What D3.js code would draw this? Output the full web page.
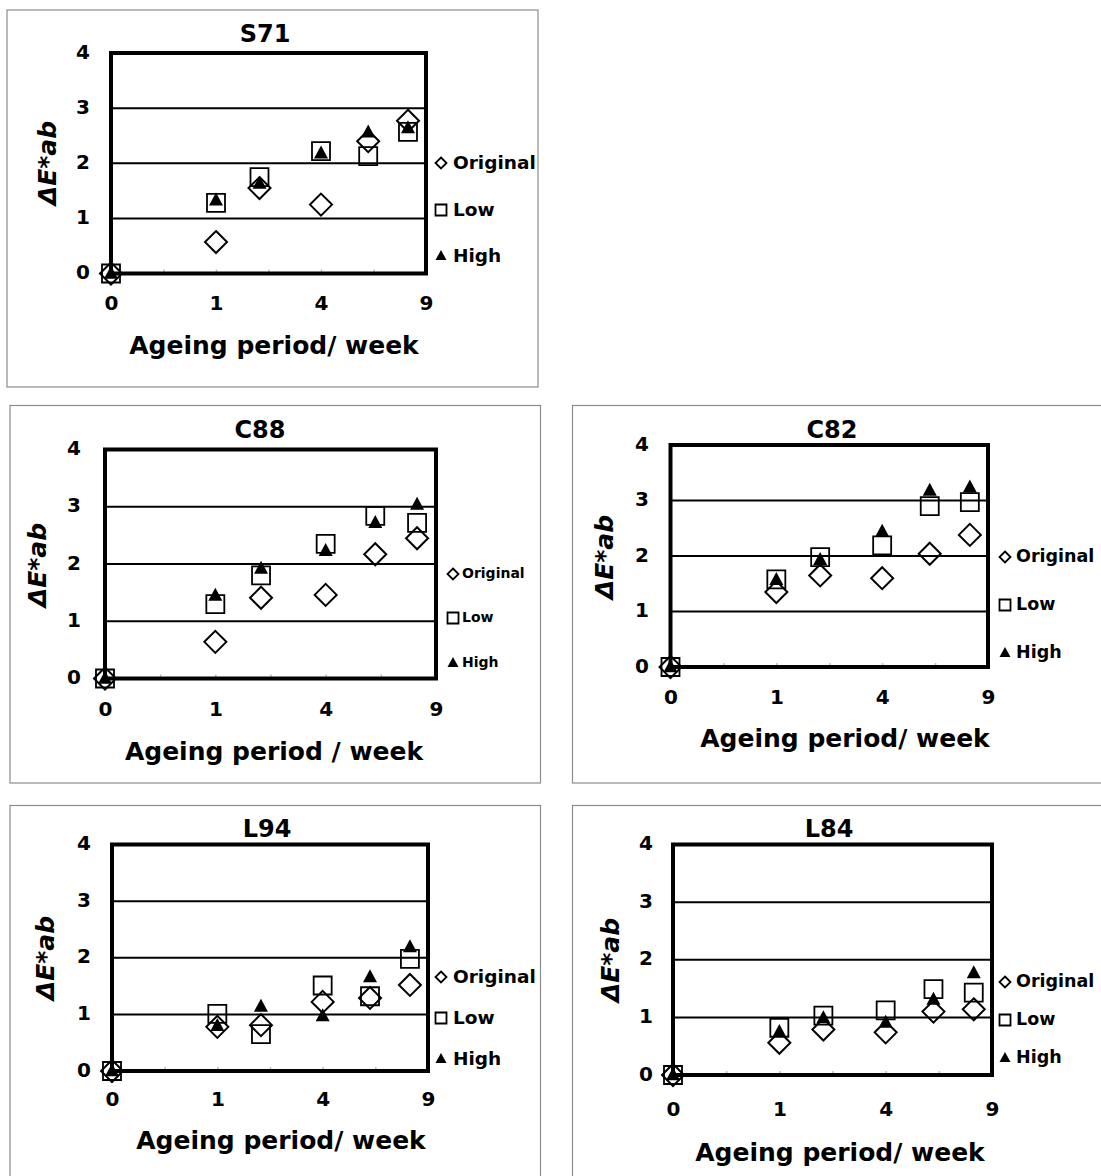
<!DOCTYPE html>
<html>
<head>
<meta charset="utf-8">
<script src="https://cdn.jsdelivr.net/npm/d3@7"></script>
<style>
  body { margin: 0; background: #fff; }
  svg text { font-family: Verdana, "DejaVu Sans", sans-serif; font-weight: bold; fill: #000; }
</style>
</head>
<body>
<div id="chart-area"></div>
<script>
// ageing weeks (x axis is a square-root scale, labelled 0 1 4 9)
const weeks = [0, 1, 2, 4, 6, 8];
const xTicks = [0, 1, 4, 9];
const xMinorTicks = [0.25, 1, 2.25, 4, 6.25];
const yTicks = [0, 1, 2, 3, 4];
const gridValues = [1, 2, 3];
const seriesNames = ["Original", "Low", "High"];

const s71Original = [0, 0.57, 1.55, 1.25, 2.40, 2.77];
const s71Low      = [0, 1.28, 1.75, 2.22, 2.13, 2.57];
const s71High     = [0, 1.33, 1.63, 2.18, 2.56, 2.64];

const c88Original = [0, 0.64, 1.41, 1.46, 2.17, 2.45];
const c88Low      = [0, 1.30, 1.80, 2.35, 2.84, 2.72];
const c88High     = [0, 1.45, 1.92, 2.23, 2.72, 3.04];

const c82Original = [0, 1.35, 1.65, 1.60, 2.04, 2.38];
const c82Low      = [0, 1.58, 1.98, 2.19, 2.90, 2.97];
const c82High     = [0, 1.57, 1.93, 2.44, 3.18, 3.24];

const l94Original = [0, 0.78, 0.81, 1.22, 1.29, 1.52];
const l94Low      = [0, 1.01, 0.65, 1.51, 1.32, 1.98];
const l94High     = [0, 0.80, 1.14, 0.97, 1.66, 2.19];

const l84Original = [0, 0.56, 0.79, 0.74, 1.10, 1.14];
const l84Low      = [0, 0.82, 1.03, 1.12, 1.49, 1.43];
const l84High     = [0, 0.75, 0.99, 0.91, 1.31, 1.77];

const panels = [
  { title: "S71", series: [s71Original, s71Low, s71High], xTitle: "Ageing period/ week",
    frame: [7, 10, 538, 387], plot: [111, 53, 426, 273.5],
    titleX: 265, titleY: 34, yLabX: 83, xLabY: 303, xTitleX: 274, xTitleY: 345, yTitleX: 47, yTitleY: 163,
    legX: 441, legTX: 453, legY: [163, 210, 256], legFont: 18.5 },
  { title: "C88", series: [c88Original, c88Low, c88High], xTitle: "Ageing period / week",
    frame: [10, 405.5, 540.5, 783], plot: [105, 449.5, 436, 678.5],
    titleX: 260, titleY: 430, yLabX: 74, xLabY: 709, xTitleX: 274, xTitleY: 751, yTitleX: 37, yTitleY: 565,
    legX: 453, legTX: 462, legY: [574, 618, 663], legFont: 14 },
  { title: "C82", series: [c82Original, c82Low, c82High], xTitle: "Ageing period/ week",
    frame: [572.5, 405.5, 1110, 783], plot: [670.5, 445, 988, 667],
    titleX: 832, titleY: 430, yLabX: 642, xLabY: 697, xTitleX: 845, xTitleY: 738, yTitleX: 604, yTitleY: 557,
    legX: 1005, legTX: 1016, legY: [557, 605, 653], legFont: 17.5 },
  { title: "L94", series: [l94Original, l94Low, l94High], xTitle: "Ageing period/ week",
    frame: [10, 805.5, 540.5, 1190], plot: [112, 844.5, 428, 1071],
    titleX: 267, titleY: 829, yLabX: 84, xLabY: 1099, xTitleX: 281, xTitleY: 1140, yTitleX: 45, yTitleY: 958,
    legX: 441, legTX: 453, legY: [977, 1018, 1059], legFont: 18.5 },
  { title: "L84", series: [l84Original, l84Low, l84High], xTitle: "Ageing period/ week",
    frame: [572.5, 805.5, 1110, 1190], plot: [673, 844.5, 992, 1075],
    titleX: 829, titleY: 829, yLabX: 646, xLabY: 1109, xTitleX: 840, xTitleY: 1152, yTitleX: 610, yTitleY: 960,
    legX: 1005, legTX: 1016, legY: [982, 1020, 1058], legFont: 17.5 }
];

const width = 1101, height = 1176;
const svg = d3.select("#chart-area")
  .append("svg")
    .attr("width", width)
    .attr("height", height);

// marker shapes
function diamondPath(r) { return "M0," + (-r) + "L" + r + ",0L0," + r + "L" + (-r) + ",0Z"; }
function squarePath(h) { return "M" + (-h) + "," + (-h) + "H" + h + "V" + h + "H" + (-h) + "Z"; }
function trianglePath(w, h) { return "M0," + (-h * 0.6) + "L" + (w / 2) + "," + (h * 0.4) + "L" + (-w / 2) + "," + (h * 0.4) + "Z"; }

const markerStyles = [
  { path: diamondPath(11), legPath: diamondPath(5.5), fill: "none", stroke: "#000", sw: 2 },
  { path: squarePath(9), legPath: squarePath(5.5), fill: "none", stroke: "#000", sw: 1.8 },
  { path: trianglePath(14, 13), legPath: trianglePath(11, 10), fill: "#000", stroke: "none", sw: 0 }
];

panels.forEach((p) => {
  const [fx0, fy0, fx1, fy1] = p.frame;
  const [left, top, right, bottom] = p.plot;

  svg.append("rect")
    .attr("x", fx0).attr("y", fy0)
    .attr("width", fx1 - fx0).attr("height", fy1 - fy0)
    .attr("fill", "#fff")
    .attr("stroke", "#8c8c8c")
    .attr("stroke-width", 1.2);

  const x = d3.scaleSqrt().domain([0, 9]).range([left, right]);
  const y = d3.scaleLinear().domain([0, 4]).range([bottom, top]);

  const g = svg.append("g");

  // grid lines
  g.selectAll(".grid").data(gridValues).enter()
    .append("line")
      .attr("x1", left).attr("x2", right)
      .attr("y1", (d) => y(d)).attr("y2", (d) => y(d))
      .attr("stroke", "#000")
      .attr("stroke-width", 2);

  // faint minor ticks on the x axis
  g.append("g")
    .attr("transform", "translate(0," + bottom + ")")
    .call(d3.axisTop(x).tickValues(xMinorTicks).tickSize(4).tickFormat(""))
    .call((a) => a.select(".domain").remove())
    .selectAll("line").attr("stroke", "#bbb").attr("stroke-width", 1.5);

  // plot frame
  g.append("rect")
    .attr("x", left).attr("y", top)
    .attr("width", right - left).attr("height", bottom - top)
    .attr("fill", "none")
    .attr("stroke", "#000")
    .attr("stroke-width", 4);

  // y axis labels
  const yAxis = g.append("g")
    .attr("transform", "translate(" + left + ",0)")
    .call(d3.axisLeft(y).tickValues(yTicks).tickSize(0).tickFormat(d3.format("d")));
  yAxis.select(".domain").remove();
  yAxis.selectAll("text")
    .attr("x", p.yLabX - left)
    .attr("dy", null)
    .attr("y", -2)
    .attr("dominant-baseline", "central")
    .attr("text-anchor", "middle")
    .attr("font-size", "20px");

  // x axis labels
  const xAxis = g.append("g")
    .attr("transform", "translate(0," + bottom + ")")
    .call(d3.axisBottom(x).tickValues(xTicks).tickSize(0).tickFormat(d3.format("d")));
  xAxis.select(".domain").remove();
  xAxis.selectAll("text")
    .attr("y", p.xLabY - bottom)
    .attr("dy", null)
    .attr("dominant-baseline", "central")
    .attr("font-size", "20px");

  svg.append("text")
    .attr("x", p.titleX).attr("y", p.titleY)
    .attr("text-anchor", "middle")
    .attr("dominant-baseline", "central")
    .attr("font-size", "24px")
    .text(p.title);

  svg.append("text")
    .attr("x", p.xTitleX).attr("y", p.xTitleY)
    .attr("text-anchor", "middle")
    .attr("dominant-baseline", "central")
    .attr("font-size", "25px")
    .text(p.xTitle);

  svg.append("text")
    .attr("transform", "translate(" + p.yTitleX + "," + p.yTitleY + ") rotate(-90)")
    .attr("text-anchor", "middle")
    .attr("dominant-baseline", "central")
    .attr("font-size", "25px")
    .attr("font-style", "italic")
    .text("ΔE*ab");

  // data markers: squares, diamonds, then filled triangles on top
  [1, 0, 2].forEach((si) => {
    const st = markerStyles[si];
    g.selectAll(".m" + si).data(p.series[si]).enter()
      .append("path")
        .attr("d", st.path)
        .attr("transform", (d, i) => "translate(" + x(weeks[i]) + "," + y(d) + ")")
        .attr("fill", st.fill)
        .attr("stroke", st.stroke)
        .attr("stroke-width", st.sw);
  });

  // legend
  seriesNames.forEach((name, si) => {
    const st = markerStyles[si];
    svg.append("path")
      .attr("d", st.legPath)
      .attr("transform", "translate(" + p.legX + "," + p.legY[si] + ")")
      .attr("fill", st.fill)
      .attr("stroke", st.stroke)
      .attr("stroke-width", st.sw === 0 ? 0 : 1.8);
    svg.append("text")
      .attr("x", p.legTX).attr("y", p.legY[si] - 1)
      .attr("dominant-baseline", "central")
      .attr("font-size", p.legFont + "px")
      .text(name);
  });
});
</script>
</body>
</html>
